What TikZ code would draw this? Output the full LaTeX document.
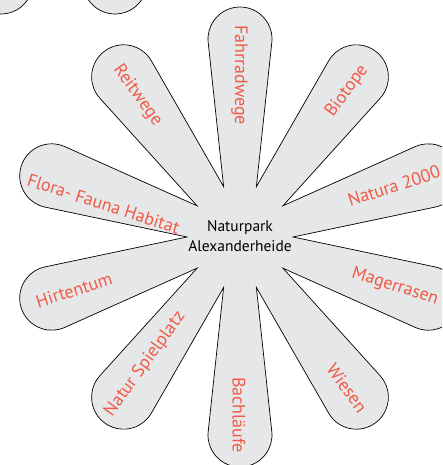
\documentclass[tikz,border=0pt]{standalone}
\usepackage{fontspec}
\setmainfont{PT Sans}
\usetikzlibrary{calc}
\definecolor{petalgray}{HTML}{E6E7E8}
\definecolor{labelred}{HTML}{F05A46}
\begin{document}
\begin{tikzpicture}[x=1pt,y=1pt,
  petal/.style={fill=petalgray,draw=black,line width=0.7pt,line join=miter},
  lbl/.style={text=labelred,font=\fontsize{18}{21}\selectfont,inner sep=0pt},
  hub/.style={text=black,font=\fontsize{15.5}{20}\selectfont,align=center,inner sep=0pt}]
\useasboundingbox (0,0) rectangle (442,465);
\clip (0,0) rectangle (442,465);
\coordinate (C) at (240,228);
\draw[petal] (1,483) circle[radius=32];
\draw[petal] (115,483) circle[radius=32];
\draw[petal] ($(C)+(0:53)$) \foreach \a in {18,54,...,342}{ -- ($(C)+(\a:198)+(\a-96:32)$) arc[start angle=\a-96,end angle=\a+96,radius=32] -- ($(C)+(\a+18:53)$) } -- cycle;
\node[hub] (hub) at (240,228.5) {Naturpark\\Alexanderheide};
\node[lbl,rotate=-90] (fahrrad) at (239.5,390) {Fahrradwege};
\node[lbl,rotate=54] (biotope) at (347,374) {Biotope};
\node[lbl,rotate=18] (natura) at (394,279.2) {Natura 2000};
\node[lbl,rotate=-18] (mager) at (395,178.2) {Magerrasen};
\node[lbl,rotate=-54] (wiesen) at (347,77) {Wiesen};
\node[lbl,rotate=-90] (bach) at (239,50) {Bachläufe};
\node[lbl,rotate=54] (spiel) at (145,101) {Natur Spielplatz};
\node[lbl,rotate=18] (hirten) at (74,175) {Hirtentum};
\node[lbl,rotate=-18] (flora) at (103.5,261) {Flora- Fauna Habitat};
\node[lbl,rotate=-54] (reit) at (137.5,369.5) {Reitwege};
\end{tikzpicture}
\end{document}
